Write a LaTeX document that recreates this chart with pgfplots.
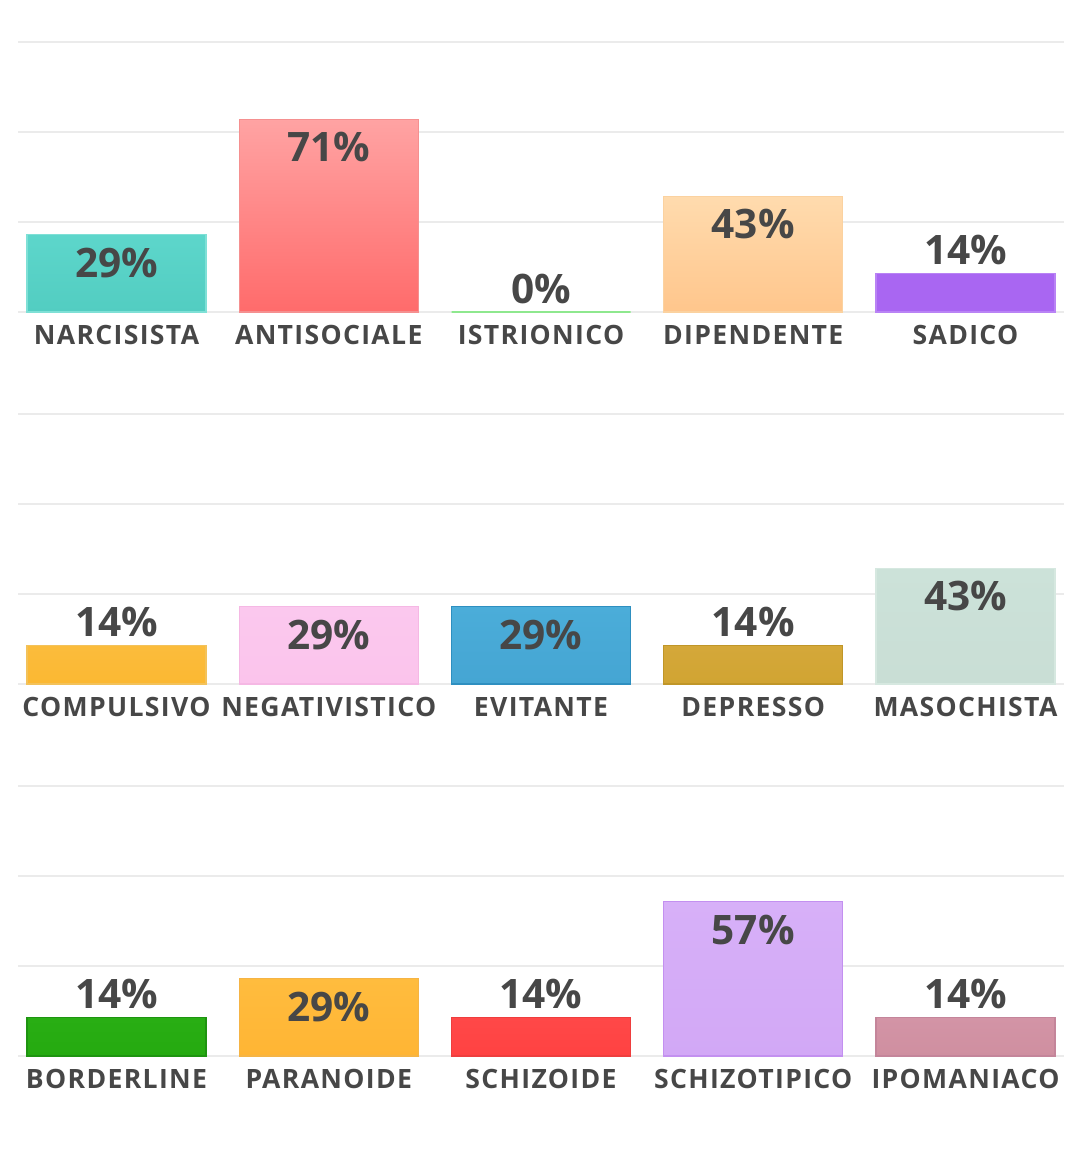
\documentclass[border=0pt]{standalone}
\usepackage{pgfplots}
\pgfplotsset{compat=1.18}
\usepackage{fontspec}
\setmainfont{Open Sans}
\newfontfamily\labfont{Open Sans}[LetterSpace=5]
\definecolor{txt}{HTML}{474747}
\definecolor{gridc}{HTML}{EBEBEB}
% bar colours: top, bottom, border
\definecolor{aT}{HTML}{5DD6CB}\definecolor{aB}{HTML}{52CDC1}\definecolor{aD}{HTML}{7FE0D6}
\definecolor{bT}{HTML}{FFA3A3}\definecolor{bB}{HTML}{FF6B6B}\definecolor{bD}{HTML}{F59090}
\definecolor{cT}{HTML}{8EE88E}
\definecolor{dT}{HTML}{FFDBAE}\definecolor{dB}{HTML}{FFC68C}\definecolor{dD}{HTML}{FBD2A0}
\definecolor{eT}{HTML}{A966F2}\definecolor{eD}{HTML}{B983F5}
\definecolor{fT}{HTML}{FBBC3C}\definecolor{fB}{HTML}{FBB832}\definecolor{fD}{HTML}{F3C25A}
\definecolor{gT}{HTML}{FBC8EE}\definecolor{gB}{HTML}{FBC4EC}\definecolor{gD}{HTML}{F5B8E4}
\definecolor{hT}{HTML}{4BADD9}\definecolor{hB}{HTML}{45A5D3}\definecolor{hD}{HTML}{2E8FC0}
\definecolor{iT}{HTML}{D4A83A}\definecolor{iB}{HTML}{D1A432}\definecolor{iD}{HTML}{C09628}
\definecolor{jT}{HTML}{CCE2D9}\definecolor{jB}{HTML}{C9DED5}\definecolor{jD}{HTML}{D6E8E0}
\definecolor{kT}{HTML}{29AE14}\definecolor{kB}{HTML}{25AA10}\definecolor{kD}{HTML}{1E9410}
\definecolor{lT}{HTML}{FFBC3E}\definecolor{lB}{HTML}{FFB534}\definecolor{lD}{HTML}{F5B445}
\definecolor{mT}{HTML}{FF4848}\definecolor{mB}{HTML}{FF4242}\definecolor{mD}{HTML}{EE3E3E}
\definecolor{nT}{HTML}{D7B0F8}\definecolor{nB}{HTML}{D2A8F6}\definecolor{nD}{HTML}{C390F0}
\definecolor{oT}{HTML}{D394A6}\definecolor{oB}{HTML}{CF8FA0}\definecolor{oD}{HTML}{C4859A}
\pgfplotsset{
  panel/.style={
    at={(9pt,#1)}, anchor=south west,
    scale only axis, width=523pt, height=135pt,
    xmin=-0.4641, xmax=4.4641, ymin=0, ymax=100,
    xtick={0,1,2,3,4},
    ytick={0,33.333,66.667,100}, yticklabels={,,,},
    ymajorgrids, grid style={draw=gridc, line width=1pt},
    axis line style={draw=none}, tick style={draw=none},
    xticklabel style={font=\labfont\fontsize{13.3}{14}\selectfont\bfseries, text=txt, anchor=center, yshift=-7pt},
    clip=false,
    /pgf/number format/assume math mode=true,
    ybar, bar width=89.5pt, bar shift=0pt,
  },
  vbar/.style n args={3}{
    top color=#1, bottom color=#2, draw=#3, line width=0.6pt,
    nodes near coords={\pgfmathprintnumber[fixed,precision=0]{\pgfplotspointmeta}\%},
  },
  inside/.style={every node near coord/.append style={anchor=center, yshift=-14pt, font=\fontsize{20.3}{22}\selectfont\bfseries, text=txt}},
  above/.style={every node near coord/.append style={anchor=center, yshift=11.5pt, font=\fontsize{20.3}{22}\selectfont\bfseries, text=txt}},
}
\begin{document}
\begin{tikzpicture}
\useasboundingbox (0,0) rectangle (540pt,586.5pt);
% Panel 1
\begin{axis}[panel=430.5pt, xticklabels={NARCISISTA,ANTISOCIALE,ISTRIONICO,DIPENDENTE,SADICO}]
\addplot[vbar={aT}{aB}{aD}, inside] coordinates {(0,28.57)};
\addplot[vbar={bT}{bB}{bD}, inside] coordinates {(1,71.43)};
\addplot[vbar={cT}{cT}{cT}, line width=1.3pt, above] coordinates {(2,0)};
\addplot[vbar={dT}{dB}{dD}, inside] coordinates {(3,42.86)};
\addplot[vbar={eT}{eT}{eD}, above] coordinates {(4,14.29)};
\end{axis}
% Panel 2
\begin{axis}[panel=244.5pt, xticklabels={COMPULSIVO,NEGATIVISTICO,EVITANTE,DEPRESSO,MASOCHISTA}]
\addplot[vbar={fT}{fB}{fD}, above] coordinates {(0,14.29)};
\addplot[vbar={gT}{gB}{gD}, inside] coordinates {(1,28.57)};
\addplot[vbar={hT}{hB}{hD}, inside] coordinates {(2,28.57)};
\addplot[vbar={iT}{iB}{iD}, above] coordinates {(3,14.29)};
\addplot[vbar={jT}{jB}{jD}, inside] coordinates {(4,42.86)};
\end{axis}
% Panel 3
\begin{axis}[panel=58.5pt, xticklabels={BORDERLINE,PARANOIDE,SCHIZOIDE,SCHIZOTIPICO,IPOMANIACO}]
\addplot[vbar={kT}{kB}{kD}, above] coordinates {(0,14.29)};
\addplot[vbar={lT}{lB}{lD}, inside] coordinates {(1,28.57)};
\addplot[vbar={mT}{mB}{mD}, above] coordinates {(2,14.29)};
\addplot[vbar={nT}{nB}{nD}, inside] coordinates {(3,57.14)};
\addplot[vbar={oT}{oB}{oD}, above] coordinates {(4,14.29)};
\end{axis}
\end{tikzpicture}
\end{document}
